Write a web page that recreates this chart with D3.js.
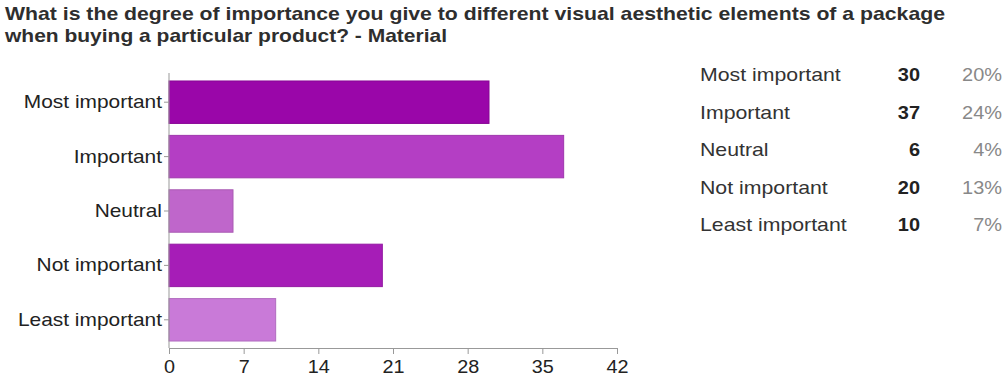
<!DOCTYPE html>
<html>
<head>
<meta charset="utf-8">
<script src="https://cdn.jsdelivr.net/npm/d3@7"></script>
<style>
  html, body { margin: 0; padding: 0; background: #fff; }
  svg { display: block; font-family: "Liberation Sans", Arial, sans-serif; }
</style>
</head>
<body>
<svg id="chart" width="1007" height="381"></svg>
<script>
// Survey responses: importance of package material
const categories = ["Most important", "Important", "Neutral", "Not important", "Least important"];
const counts = [30, 37, 6, 20, 10];
const percents = ["20%", "24%", "4%", "13%", "7%"];
const barColors = ["#9a06a9", "#b43ec4", "#bf66cb", "#a61db7", "#c97ad8"];
const xTicks = [0, 7, 14, 21, 28, 35, 42];
const titleLines = [
  "What is the degree of importance you give to different visual aesthetic elements of a package",
  "when buying a particular product? - Material"
];

const svg = d3.select("#chart");

// Widen text glyphs horizontally by a factor, keeping its anchor
function stretch(sel, factor) {
  sel.each(function () {
    const w = this.getComputedTextLength();
    d3.select(this).attr("textLength", w * factor).attr("lengthAdjust", "spacingAndGlyphs");
  });
}

// Title
const title = svg.append("g").selectAll("text").data(titleLines).join("text")
  .attr("x", 5)
  .attr("y", (d, i) => 20 + i * 21.5)
  .attr("font-size", 19)
  .attr("font-weight", "bold")
  .attr("fill", "#2e2e2e")
  .text(d => d);
title.attr("textLength", (d, i) => [940, 442][i]).attr("lengthAdjust", "spacingAndGlyphs");

const x = d3.scaleLinear().domain([0, 42]).range([169, 617]);
const y = d3.scaleBand().domain(categories).range([75, 347]).paddingInner(0.22).paddingOuter(0.11);

// Bars
svg.append("g").selectAll("rect").data(categories).join("rect")
  .attr("x", x(0))
  .attr("y", d => y(d))
  .attr("width", (d, i) => x(counts[i]) - x(0))
  .attr("height", y.bandwidth())
  .attr("fill", (d, i) => barColors[i])
  .attr("stroke", (d, i) => d3.color(barColors[i]).darker(0.35))
  .attr("stroke-width", 1);

// Y axis
const yAxis = svg.append("g")
  .attr("transform", `translate(${x(0)},0)`)
  .call(d3.axisLeft(y).tickSize(5).tickPadding(2));
yAxis.select(".domain").attr("stroke", "#999").attr("d", `M0,73V348`);
yAxis.selectAll(".tick line").attr("stroke", "#999");
yAxis.selectAll(".tick text").attr("font-size", 19).attr("fill", "#222")
  .attr("font-family", "Liberation Sans, Arial, sans-serif");
stretch(yAxis.selectAll(".tick text"), 1.1);

// X axis
const xAxis = svg.append("g")
  .attr("transform", "translate(0,348)")
  .call(d3.axisBottom(x).tickValues(xTicks).tickSize(6).tickSizeOuter(0).tickPadding(6));
xAxis.select(".domain").attr("stroke", "#999");
xAxis.selectAll(".tick line").attr("stroke", "#999");
xAxis.selectAll(".tick text").attr("font-size", 18).attr("fill", "#222")
  .attr("font-family", "Liberation Sans, Arial, sans-serif");
stretch(xAxis.selectAll(".tick text"), 1.1);

// Summary table
const rowY = d3.scalePoint().domain(categories).range([81, 231]);
const table = svg.append("g").attr("font-size", 19);
const lbl = table.selectAll("text.lbl").data(categories).join("text")
  .attr("class", "lbl")
  .attr("x", 700).attr("y", d => rowY(d))
  .attr("fill", "#333")
  .text(d => d);
stretch(lbl, 1.12);
const cnt = table.selectAll("text.cnt").data(categories).join("text")
  .attr("class", "cnt")
  .attr("x", 920).attr("y", d => rowY(d))
  .attr("text-anchor", "end")
  .attr("font-weight", "bold")
  .attr("fill", "#222")
  .text((d, i) => counts[i]);
stretch(cnt, 1.05);
const pct = table.selectAll("text.pct").data(categories).join("text")
  .attr("class", "pct")
  .attr("x", 1002).attr("y", d => rowY(d))
  .attr("text-anchor", "end")
  .attr("fill", "#888")
  .text((d, i) => percents[i]);
stretch(pct, 1.05);
</script>
</body>
</html>
